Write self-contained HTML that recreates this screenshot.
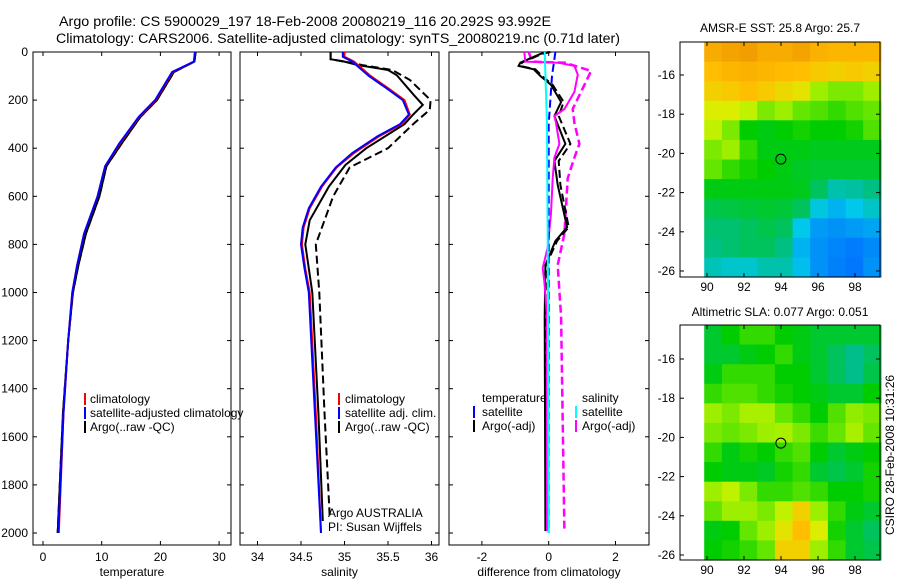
<!DOCTYPE html>
<html><head><meta charset="utf-8"><style>
html,body{margin:0;padding:0;background:#fff;}
svg{display:block;font-family:"Liberation Sans",sans-serif;}
text{fill:#000;}
</style></head><body>
<svg id="fig" width="900" height="580" viewBox="0 0 900 580" xmlns="http://www.w3.org/2000/svg">
<rect x="0" y="0" width="900" height="580" fill="#fff"/>
<text x="59" y="26" font-size="13.5" textLength="492" lengthAdjust="spacingAndGlyphs">Argo profile: CS 5900029_197 18-Feb-2008 20080219_116 20.292S 93.992E</text>
<text x="56" y="43" font-size="13.5" textLength="564" lengthAdjust="spacingAndGlyphs">Climatology: CARS2006. Satellite-adjusted climatology: synTS_20080219.nc (0.71d later)</text>
<g id="plots"></g>
<g id="legends">
<text x="90" y="403" font-size="12">climatology</text>
<text x="90" y="417" font-size="12">satellite-adjusted climatology</text>
<text x="90" y="431" font-size="12">Argo(..raw -QC)</text>
<rect x="84" y="393" width="2" height="12" fill="#f00"/>
<rect x="84" y="407" width="2" height="12" fill="#00f"/>
<rect x="84" y="421" width="2" height="12" fill="#000"/>
<text x="345" y="403" font-size="12">climatology</text>
<text x="345" y="417" font-size="12">satellite adj. clim.</text>
<text x="345" y="431" font-size="12">Argo(..raw -QC)</text>
<rect x="338" y="393" width="2" height="12" fill="#f00"/>
<rect x="338" y="407" width="2" height="12" fill="#00f"/>
<rect x="338" y="421" width="2" height="12" fill="#000"/>
<text x="328" y="517" font-size="12">Argo AUSTRALIA</text>
<text x="328" y="531" font-size="12">PI: Susan Wijffels</text>
<text x="482" y="402" font-size="12">temperature</text>
<text x="482" y="416" font-size="12">satellite</text>
<text x="482" y="430" font-size="12">Argo(-adj)</text>
<rect x="473" y="406" width="2" height="12" fill="#00f"/>
<rect x="473" y="420" width="2" height="12" fill="#000"/>
<text x="582" y="402" font-size="12">salinity</text>
<text x="582" y="416" font-size="12">satellite</text>
<text x="582" y="430" font-size="12">Argo(-adj)</text>
<rect x="575" y="406" width="2" height="12" fill="#0ff"/>
<rect x="575" y="420" width="2" height="12" fill="#f0f"/>
</g>
<text x="780" y="32" font-size="12" text-anchor="middle">AMSR-E SST: 25.8 Argo: 25.7</text>
<text x="780" y="316" font-size="12" text-anchor="middle">Altimetric SLA: 0.077 Argo: 0.051</text>
<text transform="translate(894,455) rotate(-90)" font-size="12" text-anchor="middle">CSIRO 28-Feb-2008 10:31:26</text>
</svg>
<script>
// ---- data ----
const depthTicks=[0,200,400,600,800,1000,1200,1400,1600,1800,2000];
const tempTicks=[0,10,20,30];
const salTicks=[34,34.5,35,35.5,36];
const salTickLabels=["34","34.5","35","35.5","36"];
const diffTicks=[-2,0,2];
const tDepth=[0,40,83,200,270,380,475,600,755,890,1000,1200,1500,2000];
const tClim=[25.9,25.7,22.1,19.2,16.4,13.1,10.6,9.3,7.0,5.8,5.0,4.3,3.5,2.7];
const tSat=[25.9,25.7,22.0,19.1,16.3,13.0,10.6,9.3,7.0,5.8,5.0,4.3,3.5,2.6];
const tArgo=[26.0,25.8,22.3,19.4,16.6,13.4,10.8,9.6,7.3,6.0,5.1,4.3,3.4,2.5];
const sDepth=[0,20,40,100,150,200,260,300,350,420,480,560,650,730,800,900,1000,1500,2000];
const sClim=[35.0,35.0,35.11,35.3,35.5,35.69,35.75,35.66,35.4,35.11,34.91,34.74,34.6,34.53,34.51,34.55,34.6,34.67,34.73];
const sSat=[34.98,34.98,35.09,35.28,35.48,35.67,35.74,35.64,35.38,35.09,34.9,34.73,34.59,34.52,34.5,34.54,34.59,34.66,34.73];
const saDepth=[0,30,40,54,75,96,180,220,260,300,400,470,560,700,800,1000,1500,1950];
const sArgo=[34.84,34.84,35.0,35.15,35.5,35.6,35.8,35.9,35.79,35.69,35.25,35.01,34.82,34.6,34.55,34.63,34.7,34.75];
const sdDepth=[0,30,40,54,75,116,200,240,300,400,480,600,800,1000,1500,1930];
const sArgoRaw=[34.84,34.84,35.0,35.2,35.55,35.75,35.99,35.98,35.79,35.5,35.06,34.87,34.67,34.71,34.77,34.83];
const dtDepth=[0,8,44,58,72,100,137,208,266,382,453,553,728,786,886,1100,1992];
const dTArgo=[0.0,-0.25,-0.85,-0.9,-0.45,-0.25,0.07,0.37,0.17,0.5,0.17,0.27,0.55,0.2,-0.1,-0.12,-0.1];
const dTArgoRaw=[0.05,-0.2,-0.8,-0.85,-0.4,-0.2,0.12,0.45,0.3,0.65,0.3,0.35,0.6,0.25,-0.08,-0.1,-0.08];
const dtsDepth=[0,100,300,600,1000,2000];
const dTSat=[0.2,0.1,0.0,0.0,0.0,0.0];
const dssDepth=[0,300,1000,2000];
const dSSat=[-0.12,-0.05,-0.02,0.0];
const dsDepth=[0,40,45,58,94,166,237,266,295,382,439,525,670,813,898,956,1102,1992];
const dSArgo=[-0.73,-0.7,0.3,0.77,0.87,0.77,0.47,0.17,0.22,0.32,0.17,0.12,0.07,-0.03,-0.18,-0.13,-0.05,-0.05];
const dsdDepth=[0,40,45,79,137,237,295,382,439,525,756,886,1102,1992];
const dSArgoRaw=[-0.6,-0.5,0.5,1.27,1.07,0.72,0.77,0.92,0.77,0.57,0.47,0.27,0.37,0.47];
const mapLonTicks=[90,92,94,96,98];
const mapLatTicks=[-16,-18,-20,-22,-24,-26];
const sstGrid=[
[.92,.95,.97,.92,.92,.95,.90,.88,.88,.88],
[.85,.88,.90,.88,.86,.85,.82,.80,.82,.80],
[.80,.82,.85,.82,.78,.75,.65,.62,.62,.65],
[.72,.72,.68,.62,.65,.60,.58,.55,.58,.60],
[.68,.62,.50,.48,.50,.52,.50,.50,.52,.58],
[.62,.65,.55,.48,.48,.48,.47,.47,.47,.47],
[.60,.55,.52,.50,.48,.46,.45,.45,.45,.45],
[.48,.48,.48,.48,.48,.47,.40,.30,.32,.36],
[.42,.43,.44,.45,.44,.40,.22,.15,.20,.26],
[.38,.38,.40,.42,.40,.20,.10,.08,.10,.12],
[.36,.38,.40,.40,.36,.15,.08,.05,.03,.06],
[.28,.25,.25,.30,.30,.18,.08,.04,.02,.08]];
const slaGrid=[
[.45,.50,.55,.55,.50,.48,.45,.45,.45,.45],
[.45,.45,.48,.50,.55,.48,.45,.40,.35,.40],
[.48,.55,.55,.55,.50,.50,.45,.40,.35,.42],
[.55,.58,.58,.55,.52,.50,.48,.45,.45,.50],
[.65,.62,.66,.66,.60,.55,.50,.58,.64,.62],
[.62,.60,.62,.65,.66,.62,.56,.60,.66,.60],
[.55,.48,.52,.50,.55,.58,.50,.45,.48,.50],
[.50,.48,.48,.46,.52,.55,.45,.42,.45,.52],
[.65,.68,.62,.55,.55,.58,.55,.50,.50,.52],
[.60,.65,.65,.62,.68,.80,.65,.55,.48,.45],
[.48,.50,.60,.65,.75,.85,.72,.52,.45,.40],
[.50,.52,.55,.60,.80,.80,.65,.55,.45,.42]];
const argoLon=93.992, argoLat=-20.292;

// ---- drawing ----
const NS="http://www.w3.org/2000/svg";
const G=document.getElementById('plots');
function mk(tag,attrs,parent){const e=document.createElementNS(NS,tag);for(const k in attrs)e.setAttribute(k,attrs[k]);(parent||G).appendChild(e);return e;}
const yD=d=>52+d*0.2405;
const panels=[
 {x0:33,x1:231,fx:v=>43+v*5.87,ticks:tempTicks,labels:tempTicks.map(String),xl:"temperature",name:"temperature"},
 {x0:240,x1:439,fx:v=>257.5+(v-34)*87,ticks:salTicks,labels:salTickLabels,xl:"salinity",name:"salinity"},
 {x0:449,x1:649,fx:v=>548.7+v*33.4,ticks:diffTicks,labels:diffTicks.map(String),xl:"difference from climatology",name:"difference"}];
const yTop=52,yBot=545;
panels.forEach((p,i)=>{
 const r=mk('rect',{x:p.x0,y:yTop,width:p.x1-p.x0,height:yBot-yTop,fill:'none',stroke:'#000','stroke-width':1});
 
 
 depthTicks.forEach(d=>{
  const y=yD(d);
  mk('line',{x1:p.x0,x2:p.x0+4,y1:y,y2:y,stroke:'#000'});
  mk('line',{x1:p.x1-4,x2:p.x1,y1:y,y2:y,stroke:'#000'});
  if(i===0){const t=mk('text',{x:28,y:y+4,'font-size':12,'text-anchor':'end'});t.textContent=d;
   
   }
 });
 p.ticks.forEach((v,j)=>{
  const x=p.fx(v);
  mk('line',{x1:x,x2:x,y1:yTop,y2:yTop+4,stroke:'#000'});
  mk('line',{x1:x,x2:x,y1:yBot-4,y2:yBot,stroke:'#000'});
  const t=mk('text',{x:x,y:561,'font-size':12,'text-anchor':'middle'});t.textContent=p.labels[j];
  
  
 });
 const xl=mk('text',{x:(p.x0+p.x1)/2,y:576,'font-size':12,'text-anchor':'middle'});xl.textContent=p.xl;
 
 
});
function line(pi,depths,vals,color,dash,name,w){
 const p=panels[pi];
 const d=depths.map((dd,k)=>(k?'L':'M')+p.fx(vals[k]).toFixed(1)+','+yD(dd).toFixed(1)).join('');
 const e=mk('path',{d:d,fill:'none',stroke:color,'stroke-width':w||2,'stroke-dasharray':dash||'none'});
 
 
}
line(0,tDepth,tArgo,'#000','8,4','temp-argo-raw-line');
line(0,tDepth,tArgo,'#000',null,'temp-argo-line');
line(0,tDepth,tClim,'#f00',null,'temp-climatology-line');
line(0,tDepth,tSat,'#00f',null,'temp-satellite-line');
line(1,sdDepth,sArgoRaw,'#000','8,4','sal-argo-raw-line');
line(1,saDepth,sArgo,'#000',null,'sal-argo-line');
line(1,sDepth,sClim,'#f00',null,'sal-climatology-line');
line(1,sDepth,sSat,'#00f',null,'sal-satellite-line');
line(2,dsdDepth,dSArgoRaw,'#f0f','8,4','diff-sal-argo-raw-line',2.5);
line(2,dtDepth,dTArgoRaw,'#000','8,4','diff-temp-argo-raw-line');
line(2,dtDepth,dTArgo,'#000',null,'diff-temp-argo-line');
line(2,dsDepth,dSArgo,'#f0f',null,'diff-sal-argo-line');
line(2,dtsDepth,dTSat,'#00f','8,4','diff-temp-satellite-line');
line(2,dssDepth,dSSat,'#0ff',null,'diff-sal-satellite-line');

// maps
const stops=[[0,[0,110,255]],[.2,[0,200,235]],[.35,[0,190,140]],[.5,[0,205,0]],[.6,[100,230,0]],[.7,[215,245,0]],[.85,[255,190,0]],[1,[240,150,0]]];
function cmap(v){for(let i=1;i<stops.length;i++){if(v<=stops[i][0]){const a=stops[i-1],b=stops[i],t=(v-a[0])/(b[0]-a[0]);return 'rgb('+a[1].map((c,k)=>Math.round(c+(b[1][k]-c)*t)).join(',')+')';}}return 'rgb(240,150,0)';}
function drawMap(grid,boxTop,lat16y,name){
 const fx=lon=>707+(lon-90)*18.5, fy=lat=>lat16y+(-16-lat)*19.6;
 const bx0=680,bx1=880,by0=boxTop,by1=boxTop+235;
 const lon0=89.85,lon1=99.4,lat0=(-16)+(lat16y-by0)/19.6,lat1=-16-(by1-lat16y)/19.6;
 const nr=grid.length,nc=grid[0].length;
 grid.forEach((row,r)=>row.forEach((v,c)=>{
  const xa=fx(lon0+(lon1-lon0)*c/nc),xb=fx(lon0+(lon1-lon0)*(c+1)/nc);
  const ya=fy(lat0+(lat1-lat0)*r/nr),yb=fy(lat0+(lat1-lat0)*(r+1)/nr);
  const e=mk('rect',{x:xa.toFixed(1),y:ya.toFixed(1),width:(xb-xa+0.6).toFixed(1),height:(yb-ya+0.6).toFixed(1),fill:cmap(v)});
  
  
 }));
 const b=mk('rect',{x:bx0,y:by0,width:bx1-bx0,height:by1-by0,fill:'none',stroke:'#000'});
 
 
 mapLonTicks.forEach(l=>{const x=fx(l);
  mk('line',{x1:x,x2:x,y1:by0,y2:by0+4,stroke:'#000'});mk('line',{x1:x,x2:x,y1:by1-4,y2:by1,stroke:'#000'});
  const t=mk('text',{x:x,y:by1+14,'font-size':12,'text-anchor':'middle'});t.textContent=l;
  
  });
 mapLatTicks.forEach(l=>{const y=fy(l);
  mk('line',{x1:bx0,x2:bx0+4,y1:y,y2:y,stroke:'#000'});mk('line',{x1:bx1-4,x2:bx1,y1:y,y2:y,stroke:'#000'});
  const t=mk('text',{x:675,y:y+4,'font-size':12,'text-anchor':'end'});t.textContent=l;
  
  });
 const c=mk('circle',{cx:fx(argoLon),cy:fy(argoLat),r:5,fill:'none',stroke:'#000'});
 
 
}
drawMap(sstGrid,42,75,'sst-map');
drawMap(slaGrid,325,359,'sla-map');
</script>
</body></html>
